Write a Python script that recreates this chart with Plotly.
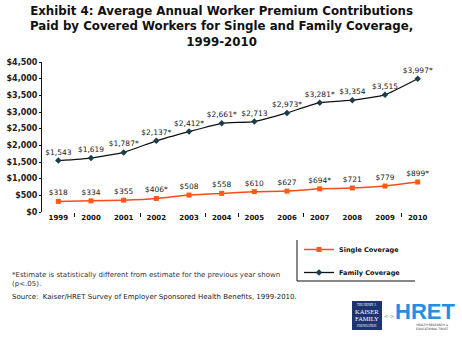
import plotly.graph_objects as go

years = [1999, 2000, 2001, 2002, 2003, 2004, 2005, 2006, 2007, 2008, 2009, 2010]
single = [318, 334, 355, 406, 508, 558, 610, 627, 694, 721, 779, 899]
single_sig = [False, False, False, True, False, False, False, False, True, False, False, True]
family = [1543, 1619, 1787, 2137, 2412, 2661, 2713, 2973, 3281, 3354, 3515, 3997]
family_sig = [False, False, True, True, True, True, False, True, True, False, False, True]
ytick_vals = [0, 500, 1000, 1500, 2000, 2500, 3000, 3500, 4000, 4500]
ytick_text = ["$" + "{:,}".format(v) for v in ytick_vals]
xtick_marks = [1999.5, 2001.5, 2003.5, 2004.5, 2006.5, 2009.5]

def lab(v, s):
    return "${:,}".format(v) + ("*" if s else "")

W, H = 462, 340
L, R, T, B = 42, 28, 62, 128
pw = W - L - R
ph = H - T - B

def px(x):
    return (x - L) / pw

def py(y):
    return (H - B - y) / ph

fig = go.Figure()
fig.add_trace(go.Scatter(
    x=years, y=single, name="Single Coverage", mode="lines+markers+text", legendgroup="s",
    text=[lab(v, s) for v, s in zip(single, single_sig)],
    textposition="top center", textfont=dict(size=7.5, color="#222", family="DejaVu Sans"),
    line=dict(color="#FF4A1A", width=1.5, shape="spline", smoothing=0.4),
    marker=dict(symbol="square", size=5, color="#FF5A14"),
))
fig.add_trace(go.Scatter(
    x=years, y=family, name="Family Coverage", mode="lines+markers+text", legendgroup="f",
    text=[lab(v, s) for v, s in zip(family, family_sig)],
    textposition="top center", textfont=dict(size=7.5, color="#222", family="DejaVu Sans"),
    line=dict(color="#111111", width=1.3, shape="spline", smoothing=0.4),
    marker=dict(symbol="diamond", size=5, color="#1B3E4E"),
))

fig.update_layout(
    width=W, height=H,
    margin=dict(l=L, r=R, t=T, b=B),
    paper_bgcolor="white", plot_bgcolor="white",
    font=dict(family="DejaVu Sans", color="#111"),
    showlegend=True,
    legend=dict(x=px(299), y=py(235), xanchor="left", yanchor="top",
                font=dict(size=6.5, family="DejaVu Sans", weight="bold"),
                tracegroupgap=4, itemwidth=30, bgcolor="rgba(0,0,0,0)"),
    xaxis=dict(range=[1998.5, 2010.5], tickvals=years, showgrid=False, zeroline=False,
               showline=False, ticks="", automargin=False,
               tickfont=dict(size=7, family="DejaVu Sans", weight="bold", color="#111")),
    xaxis2=dict(range=[1998.5, 2010.5], overlaying="x", side="bottom", tickvals=xtick_marks,
                showticklabels=False, ticks="outside", ticklen=4, tickcolor="#111",
                showgrid=False, zeroline=False, showline=False),
    yaxis=dict(range=[0, 4500], tickvals=ytick_vals, ticktext=ytick_text, automargin=False,
               showgrid=False, zeroline=False, showline=True, linecolor="#111", linewidth=1,
               ticks="outside", ticklen=2, tickcolor="#111",
               tickfont=dict(size=8, family="DejaVu Sans", weight="bold", color="#222")),
)
# invisible trace to register xaxis2
fig.add_trace(go.Scatter(x=[1999], y=[0], xaxis="x2", mode="markers",
                         marker=dict(opacity=0), showlegend=False, hoverinfo="skip"))

fig.add_annotation(
    text="<b>Exhibit 4: Average Annual Worker Premium Contributions<br>Paid by Covered Workers for Single and Family Coverage,<br>1999-2010</b>",
    xref="paper", yref="paper", x=px(221), y=py(2), xanchor="center", yanchor="top",
    showarrow=False, font=dict(size=11.8, family="DejaVu Sans", color="#111"))

# legend box (left & bottom borders)
fig.add_shape(type="line", xref="paper", yref="paper", x0=px(297), x1=px(297), y0=py(240), y1=py(281),
              line=dict(color="#111", width=1))
fig.add_shape(type="line", xref="paper", yref="paper", x0=px(297), x1=px(415), y0=py(281), y1=py(281),
              line=dict(color="#111", width=1))

fig.add_annotation(
    text="*Estimate is statistically different from estimate for the previous year shown<br>(p<.05).",
    xref="paper", yref="paper", x=px(10), y=py(269), xanchor="left", yanchor="top", align="left",
    showarrow=False, font=dict(size=7, family="DejaVu Sans", color="#333"))
fig.add_annotation(
    text="Source:  Kaiser/HRET Survey of Employer Sponsored Health Benefits, 1999-2010.",
    xref="paper", yref="paper", x=px(10), y=py(291), xanchor="left", yanchor="top", align="left",
    showarrow=False, font=dict(size=7, family="DejaVu Sans", color="#222"))

# logos
fig.add_shape(type="rect", xref="paper", yref="paper", x0=px(352), x1=px(382), y0=py(301), y1=py(330),
              fillcolor="#1D3470", line=dict(width=0))
fig.add_annotation(text="THE HENRY J.", xref="paper", yref="paper", x=px(367), y=py(304.5),
                   xanchor="center", yanchor="middle",
                   showarrow=False, font=dict(size=3, family="Liberation Serif", color="white"))
fig.add_annotation(text="KAISER", xref="paper", yref="paper", x=px(367), y=py(311),
                   xanchor="center", yanchor="middle",
                   showarrow=False, font=dict(size=6.5, family="Liberation Serif", color="white"))
fig.add_annotation(text="FAMILY", xref="paper", yref="paper", x=px(367), y=py(318.5),
                   xanchor="center", yanchor="middle",
                   showarrow=False, font=dict(size=6.5, family="Liberation Serif", color="white"))
fig.add_annotation(text="FOUNDATION", xref="paper", yref="paper", x=px(367), y=py(326),
                   xanchor="center", yanchor="middle",
                   showarrow=False, font=dict(size=3, family="Liberation Serif", color="white"))
fig.add_annotation(text="&lt;-&gt;", xref="paper", yref="paper", x=px(389), y=py(316),
                   xanchor="center", yanchor="middle",
                   showarrow=False, font=dict(size=5, color="#888"))
fig.add_annotation(text="<b>HRET</b>", xref="paper", yref="paper", x=px(425), y=py(311),
                   xanchor="center", yanchor="middle",
                   showarrow=False, font=dict(size=22, family="Liberation Sans", color="#1E90E6"))
fig.add_annotation(text="HEALTH RESEARCH &amp;<br>EDUCATIONAL TRUST", xref="paper", yref="paper",
                   x=px(432), y=py(327), xanchor="center", yanchor="middle",
                   showarrow=False, font=dict(size=3, color="#333"))

fig.write_html("out.html")
